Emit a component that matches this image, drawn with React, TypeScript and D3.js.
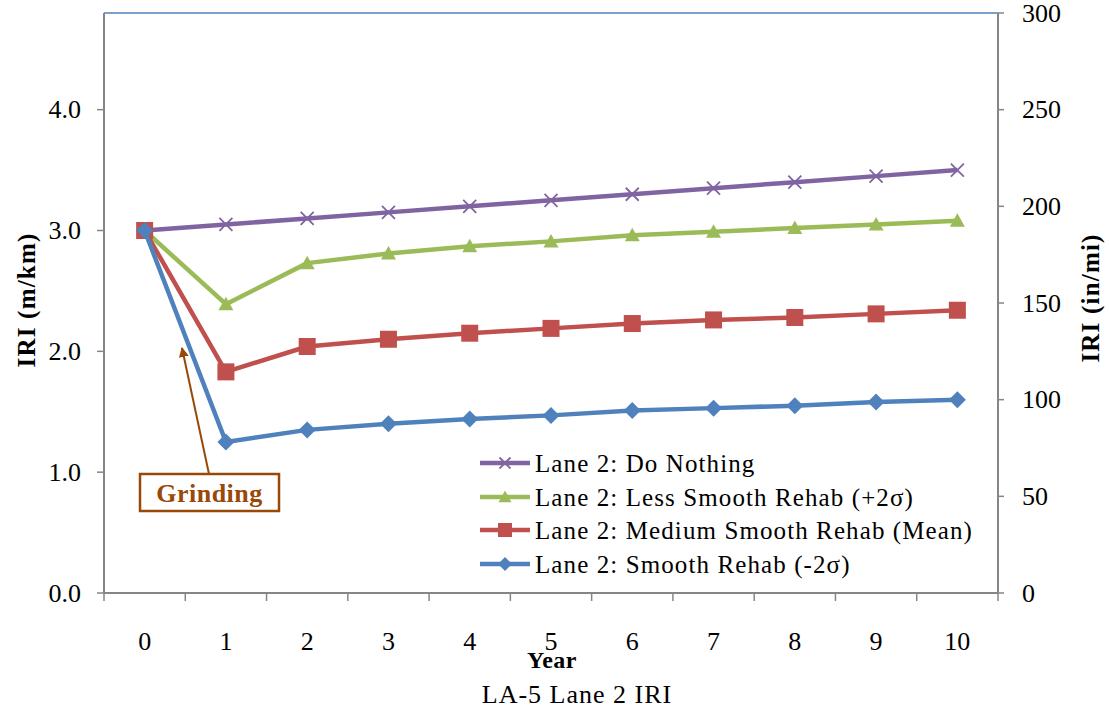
import React from "react";
import * as d3 from "d3";

const years = [0, 1, 2, 3, 4, 5, 6, 7, 8, 9, 10];
const doNothing = [3.0, 3.05, 3.1, 3.15, 3.2, 3.25, 3.3, 3.35, 3.4, 3.45, 3.5];
const lessSmooth = [3.0, 2.39, 2.73, 2.81, 2.87, 2.91, 2.96, 2.99, 3.02, 3.05, 3.08];
const mediumSmooth = [3.0, 1.83, 2.04, 2.1, 2.15, 2.19, 2.23, 2.26, 2.28, 2.31, 2.34];
const smooth = [3.0, 1.25, 1.35, 1.4, 1.44, 1.47, 1.51, 1.53, 1.55, 1.58, 1.6];
const leftTicks = [0, 1, 2, 3, 4];
const rightTicks = [0, 50, 100, 150, 200, 250, 300];

const seriesNames = [
  "Lane 2: Do Nothing",
  "Lane 2: Less Smooth Rehab (+2σ)",
  "Lane 2: Medium Smooth Rehab (Mean)",
  "Lane 2: Smooth Rehab (-2σ)",
];
const seriesColors = ["#8064A2", "#9BBB59", "#C0504D", "#4F81BD"];
const seriesMarkers = ["x", "triangle", "square", "diamond"];
const seriesData = [doNothing, lessSmooth, mediumSmooth, smooth];

const L = 104, R = 998, T = 13, B = 593;
const FONT = "'Liberation Serif', 'Times New Roman', serif";
const AXIS = "#868686";
const BROWN = "#984807";

function Marker({ type, x, y, color, s }: any) {
  const h = s / 2;
  if (type === "x") {
    return (
      <path d={`M${x - h},${y - h}L${x + h},${y + h}M${x - h},${y + h}L${x + h},${y - h}`} stroke={color} strokeWidth={1.8} />
    );
  }
  if (type === "triangle") {
    return <path d={`M${x},${y - h}L${x + h},${y + h * 0.8}L${x - h},${y + h * 0.8}Z`} fill={color} />;
  }
  if (type === "square") {
    return <rect x={x - h} y={y - h} width={s} height={s} fill={color} />;
  }
  return <path d={`M${x},${y - h}L${x + h},${y}L${x},${y + h}L${x - h},${y}Z`} fill={color} />;
}

export default function App() {
  const xBand = d3.scaleBand<number>().domain(years).range([L, R]).paddingInner(0).paddingOuter(0);
  const xc = (v: number) => (xBand(v) as number) + xBand.bandwidth() / 2;
  const y = d3.scaleLinear().domain([0, 4.8]).range([B, T]);
  const y2 = d3.scaleLinear().domain([0, 300]).range([B, T]);
  const line = d3.line<number>().x((_, i) => xc(years[i])).y((d) => y(d));
  const markerSizes = [13, 15, 17, 17];
  const legendSizes = [11, 13, 14, 14];

  const legX = 480, legTextX = 535;
  const legY = [463, 497, 530, 564];

  return (
    <svg width={1109} height={709} style={{ display: "block", position: "absolute", left: 0, top: 0 }} fontFamily={FONT}>
      <rect x={0} y={0} width={1109} height={709} fill="white" />
      <line x1={L} x2={R} y1={T} y2={T} stroke="#4F81BD" strokeWidth={1.5} />
      {/* left axis */}
      <line x1={L} x2={L} y1={T} y2={B} stroke={AXIS} strokeWidth={2} />
      {leftTicks.map((t) => (
        <g key={"l" + t}>
          <line x1={L - 7} x2={L} y1={y(t)} y2={y(t)} stroke={AXIS} strokeWidth={1.5} />
          <text x={81} y={y(t)} dy="0.33em" textAnchor="end" fontSize={26} fill="#000">
            {d3.format(".1f")(t)}
          </text>
        </g>
      ))}
      {/* right axis */}
      <line x1={R} x2={R} y1={T} y2={B} stroke={AXIS} strokeWidth={2} />
      {rightTicks.map((t) => (
        <g key={"r" + t}>
          <line x1={R} x2={R + 6} y1={y2(t)} y2={y2(t)} stroke={AXIS} strokeWidth={1.5} />
          <text x={1022} y={y2(t)} dy="0.33em" textAnchor="start" fontSize={26} fill="#000">
            {t}
          </text>
        </g>
      ))}
      {/* bottom axis */}
      <line x1={L} x2={R} y1={B} y2={B} stroke={AXIS} strokeWidth={2} />
      {years.map((yr) => (
        <line key={"bt" + yr} x1={xBand(yr)} x2={xBand(yr)} y1={B} y2={B + 8} stroke={AXIS} strokeWidth={1.5} />
      ))}
      <line x1={R} x2={R} y1={B} y2={B + 8} stroke={AXIS} strokeWidth={1.5} />
      {years.map((yr) => (
        <text key={"bl" + yr} x={xc(yr)} y={650} textAnchor="middle" fontSize={26} fill="#000">
          {yr}
        </text>
      ))}
      <text x={552} y={668} textAnchor="middle" fontSize={24} fontWeight="bold" letterSpacing={0.5}>Year</text>
      <text x={577} y={703} textAnchor="middle" fontSize={26} letterSpacing={1}>LA-5 Lane 2 IRI</text>
      <text transform={`translate(26,300) rotate(-90)`} textAnchor="middle" dy="0.35em" fontSize={25} fontWeight="bold" letterSpacing={1.2}>IRI (m/km)</text>
      <text transform={`translate(1090,298) rotate(-90)`} textAnchor="middle" dy="0.35em" fontSize={25} fontWeight="bold" letterSpacing={1.2}>IRI (in/mi)</text>

      {seriesData.map((d, si) => (
        <g key={"s" + si}>
          <path d={line(d) as string} fill="none" stroke={seriesColors[si]} strokeWidth={4.5} strokeLinejoin="round" />
          {d.map((v, i) => (
            <Marker key={i} type={seriesMarkers[si]} x={xc(years[i])} y={y(v)} color={seriesColors[si]} s={markerSizes[si]} />
          ))}
        </g>
      ))}

      <defs>
        <marker id="arr" viewBox="0 0 10 10" refX="9" refY="5" markerWidth="5" markerHeight="5" orient="auto">
          <path d="M0,0L10,5L0,10Z" fill={BROWN} />
        </marker>
      </defs>
      <line x1={209} y1={474} x2={182} y2={348} stroke={BROWN} strokeWidth={2} markerEnd="url(#arr)" />
      <rect x={140} y={474} width={139} height={37} fill="white" stroke={BROWN} strokeWidth={2.5} />
      <text x={209.5} y={502} textAnchor="middle" fontSize={26} fontWeight="bold" letterSpacing={0.5} fill={BROWN}>Grinding</text>

      {seriesNames.map((n, i) => (
        <g key={"lg" + i}>
          <line x1={legX} x2={legX + 50} y1={legY[i]} y2={legY[i]} stroke={seriesColors[i]} strokeWidth={4.5} />
          <Marker type={seriesMarkers[i]} x={legX + 25} y={legY[i]} color={seriesColors[i]} s={legendSizes[i]} />
          <text x={legTextX} y={legY[i]} dy="0.35em" fontSize={25} letterSpacing={1.1} fill="#000">{n}</text>
        </g>
      ))}
    </svg>
  );
}
